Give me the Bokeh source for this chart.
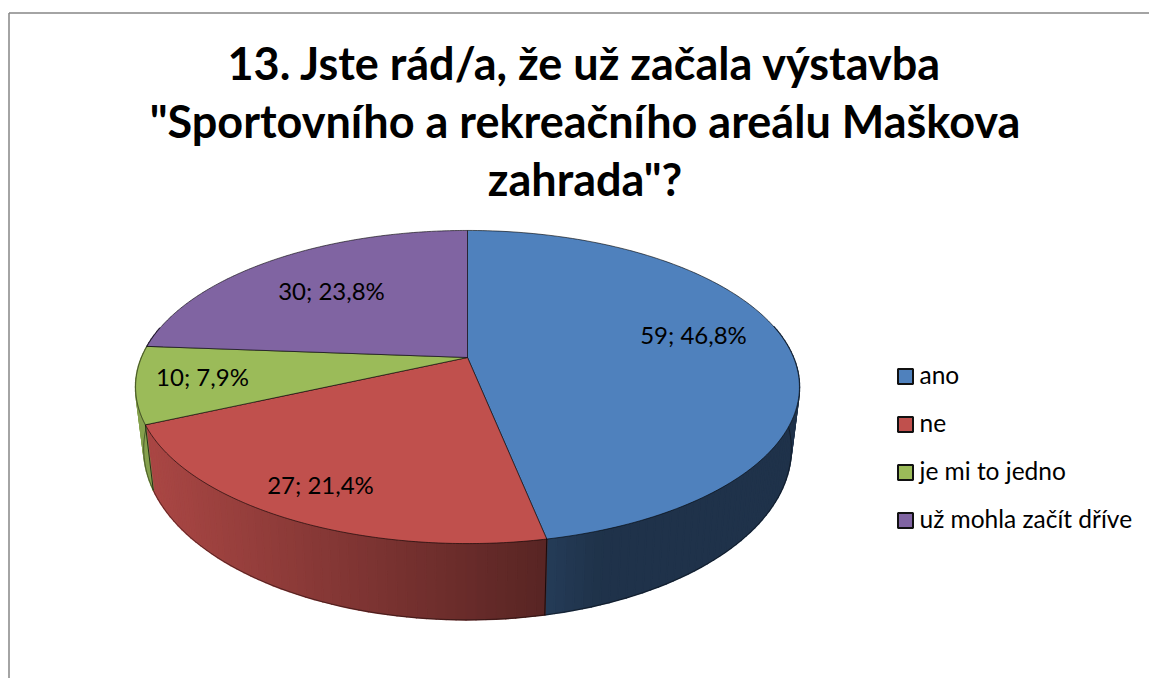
import math
import numpy as np
from bokeh.plotting import figure
from bokeh.core.properties import value
from bokeh.embed import file_html
from bokeh.resources import INLINE

# ---- data ----
categories = ["ano", "ne", "je mi to jedno", "už mohla začít dříve"]
counts = [59, 27, 10, 30]
top_colors = ["#4F81BD", "#C0504D", "#9BBB59", "#8064A2"]
title_lines = ["13. Jste rád/a, že už začala výstavba",
               "\"Sportovního a rekreačního areálu Maškova",
               "zahrada\"?"]

# ---- layout (screen pixels of the photographed page) ----
FONT = value("Lato")
W, H = 1149, 678
CX, K = 467.0, 0.1885
TOP = dict(a=326.0, b=151.0, y0=357.0)
BOT = dict(a=318.0, b=165.0, y0=416.0)
label_pos = [(693, 334), (320, 484), (202, 376), (331, 290)]
legend_y = [376, 424, 472, 520]


def project(theta, plane):
    """theta: clockwise from 12 o'clock; perspective view of the pie circle."""
    x, y = np.sin(theta), np.cos(theta)
    w = 1 + K * y
    return CX + plane["a"] * x / w, plane["y0"] - plane["b"] * y / w


def mix(c, f):
    return tuple(int(round(v * f)) for v in c)


def hexrgb(s):
    return tuple(int(s[i:i + 2], 16) for i in (1, 3, 5))


p = figure(width=W, height=H, x_range=(0, W), y_range=(H, 0),
           x_axis_type=None, y_axis_type=None, toolbar_location=None,
           output_backend="svg", min_border=0, outline_line_color=None,
           background_fill_color="white", border_fill_color="white")
p.grid.visible = False

# chart frame
p.segment([8.5, 8.5], [12.5, 12.5], [8.5, W], [H, 12.5],
          line_color="#868686", line_width=1.5)

total = sum(counts)
edges = np.concatenate([[0], np.cumsum(counts)]) / total * 2 * math.pi

# side wall: narrow facets, shaded by horizontal position
wall_f = [
    lambda t: 0.39 + 0.08 * max(0, (600 - t)) / 60,
    lambda t: 0.88 - 0.42 * min(1, max(0, (t - 150)) / 395),
    lambda t: 0.86,
    lambda t: 0.5,
]
xs, ys, cols = [], [], []
for i, c in enumerate(top_colors):
    n = max(6, int((edges[i + 1] - edges[i]) * 40))
    th = np.linspace(edges[i], edges[i + 1], n + 1)
    tx, ty = project(th, TOP)
    bx, by = project(th, BOT)
    for j in range(n):
        if math.cos((th[j] + th[j + 1]) / 2) > 0.2:
            continue
        xs.append([tx[j], tx[j + 1], bx[j + 1], bx[j]])
        ys.append([ty[j], ty[j + 1], by[j + 1], by[j]])
        f = wall_f[i]((tx[j] + tx[j + 1]) / 2)
        r, g, b = mix(hexrgb(c), f)
        cols.append(f"#{r:02x}{g:02x}{b:02x}")
p.patches(xs, ys, fill_color=cols, line_color=cols, line_width=1.6, line_join="round")

# wall outlines: bottom rim and the visible slice joints
th = np.linspace(edges[1] - 1.62, edges[3], 200)
bx, by = project(th, BOT)
p.line(bx, by, line_color="#000000", line_alpha=0.55, line_width=0.8)
for e in (edges[1], edges[2]):
    tx, ty = project(np.array([e]), TOP)
    bx, by = project(np.array([e]), BOT)
    p.line([tx[0], bx[0]], [ty[0], by[0]], line_color="#000000", line_alpha=0.8, line_width=0.9)

# top faces
for i, c in enumerate(top_colors):
    th = np.linspace(edges[i], edges[i + 1], 160)
    x, y = project(th, TOP)
    px = np.concatenate([[CX], x])
    py = np.concatenate([[TOP["y0"]], y])
    p.patch(px, py, fill_color=c, line_color="#000000", line_alpha=0.75, line_width=0.8)

# data labels
for v, (lx, ly) in zip(counts, label_pos):
    txt = f"{v}; {v / total * 100:.1f}%".replace(".", ",")
    p.text([lx], [ly], text=[txt], text_font=FONT, text_font_size="24px",
           text_color="#000000", text_align="center", text_baseline="middle")

# title
for line, base in zip(title_lines, [62, 120, 178]):
    p.text([584.5], [base], text=[line], text_font=FONT, text_font_style="bold",
           text_font_size="45px", text_color="#000000", text_align="center",
           text_baseline="alphabetic")

# legend
for name, c, ly in zip(categories, top_colors, legend_y):
    p.quad(left=[897.5], right=[912.5], top=[ly - 7.5], bottom=[ly + 7.5],
           fill_color=c, line_color="#111111", line_width=2)
    p.text([919], [ly - 2], text=[name], text_font=FONT, text_font_size="24.5px",
           text_color="#000000", text_align="left", text_baseline="middle")

open("out.html", "w").write(file_html(p, INLINE))
